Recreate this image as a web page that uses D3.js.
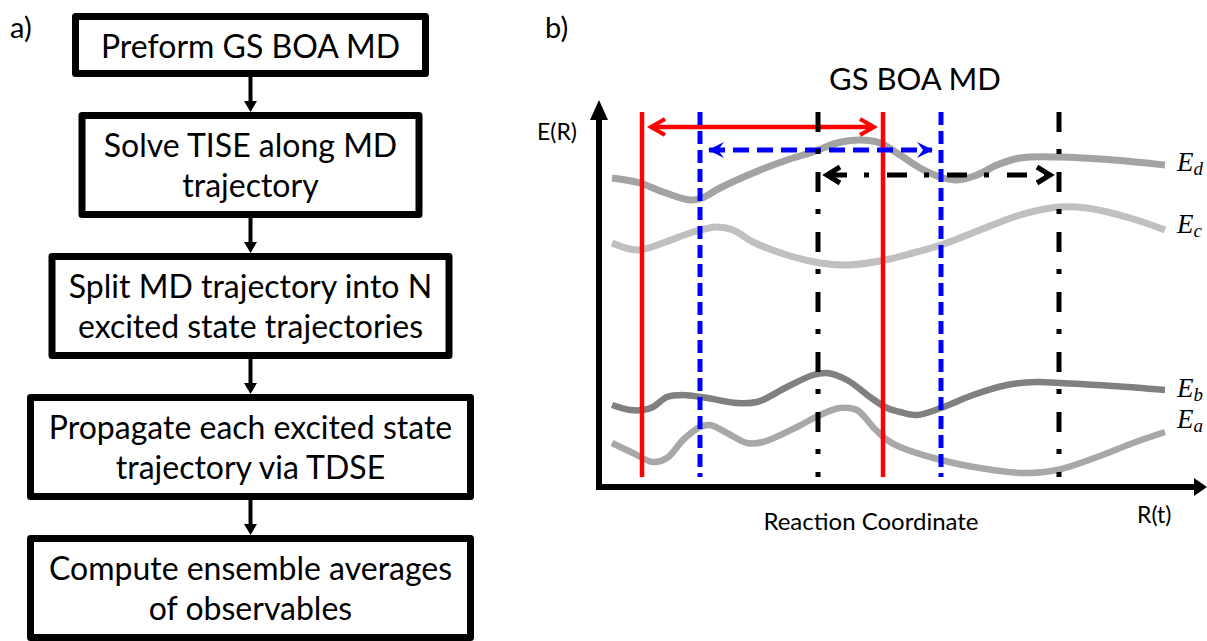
<!DOCTYPE html>
<html>
<head>
<meta charset="utf-8">
<script src="https://cdn.jsdelivr.net/npm/d3@7"></script>
<style>
  html, body { margin: 0; padding: 0; background: #fff; }
  svg { display: block; }
</style>
</head>
<body>
<svg id="fig" width="1207" height="641"></svg>
<script>
// ---------- data ----------
// Workflow steps (one entry per box, one string per text line)
const steps = [
  ["Preform GS BOA MD"],
  ["Solve TISE along MD", "trajectory"],
  ["Split MD trajectory into N", "excited state trajectories"],
  ["Propagate each excited state", "trajectory via TDSE"],
  ["Compute ensemble averages", "of observables"]
];

// Adiabatic energy surfaces, [reaction coordinate, energy] pairs
const surfaceEd = [[13,309],[41,304],[64,295],[91,287],[103,289],[121,299],[154,314],[188,327],[214,335],[238,344],[261,347],[281,344],[301,332],[321,319],[344,309],[358,307],[378,312],[398,322],[421,329],[460,330],[514,327],[566,322]];
const surfaceEc = [[13,244],[38,237],[64,244],[94,255],[118,260],[134,257],[154,245],[188,232],[221,224],[248,222],[281,226],[314,234],[342,242],[381,257],[421,272],[460,280],[488,279],[531,269],[566,257]];
const surfaceEb = [[13,82],[31,77],[44,77],[54,80],[68,90],[84,92],[108,89],[138,84],[158,85],[188,100],[214,112],[228,114],[248,107],[271,90],[288,79],[301,75],[318,72],[342,79],[374,92],[408,102],[438,105],[460,104],[514,101],[566,97]];
const surfaceEa = [[13,44],[34,34],[54,25],[68,29],[84,47],[101,60],[111,62],[128,54],[148,44],[164,45],[198,60],[221,72],[241,79],[258,77],[274,60],[288,47],[301,40],[342,27],[381,19],[424,14],[458,17],[498,30],[534,44],[566,55]];
const surfaceNames = ["d", "c", "b", "a"];

// Excited-state trajectory windows along the reaction coordinate
const windowStart = [43, 101, 219];
const windowEnd   = [284, 342, 460];
const windowArrowE = [360, 337, 312];

// Axis extents and texts
const rMax = 608, eMax = 387;
const axisTitles = { y: "E(R)", x: "R(t)", xCaption: "Reaction Coordinate", top: "GS BOA MD" };
const panelTags = ["a)", "b)"];

// ---------- styles / layout ----------
const sans = "Lato, 'Open Sans', sans-serif";
const serif = "'Liberation Serif', 'DejaVu Serif', serif";
const svg = d3.select("#fig");

// ---------- panel a: workflow ----------
const flowCx = 250.5;
const boxWidths = [357, 344, 404, 447, 447];
const border = 7, gap = 35, lineGap = 40;
let boxTop = 13;
const boxes = steps.map((lines, i) => {
  const h = 22 + 42 * lines.length;
  const b = { lines, top: boxTop, h, w: boxWidths[i] };
  boxTop += h + gap;
  return b;
});

const flow = svg.append("g");
flow.selectAll("rect.box").data(boxes).join("rect")
  .attr("class", "box")
  .attr("x", d => flowCx - d.w / 2 + border / 2)
  .attr("y", d => d.top + border / 2)
  .attr("width", d => d.w - border)
  .attr("height", d => d.h - border)
  .attr("fill", "#fff").attr("stroke", "#000")
  .attr("stroke-width", border).attr("stroke-linejoin", "round");

flow.selectAll("text.step").data(boxes).join("text")
  .attr("class", "step")
  .attr("text-anchor", "middle")
  .attr("font-family", sans).attr("font-size", 32).attr("fill", "#000")
  .each(function (d) {
    d3.select(this).selectAll("tspan").data(d.lines).join("tspan")
      .attr("x", flowCx)
      .attr("y", (l, j) => d.top + 45 + j * lineGap)
      .text(l => l);
  });

// connectors between consecutive boxes
const links = d3.pairs(boxes);
flow.selectAll("line.link").data(links).join("line")
  .attr("x1", flowCx).attr("x2", flowCx)
  .attr("y1", d => d[0].top + d[0].h)
  .attr("y2", d => d[1].top - 9)
  .attr("stroke", "#000").attr("stroke-width", 4);
flow.selectAll("path.head").data(links).join("path")
  .attr("d", d => {
    const t = d[1].top;
    return `M${flowCx - 6.5},${t - 11} L${flowCx + 6.5},${t - 11} L${flowCx},${t} Z`;
  })
  .attr("fill", "#000");

svg.append("text").attr("x", 10).attr("y", 38)
  .attr("font-family", sans).attr("font-size", 29).text(panelTags[0]);

// ---------- panel b: energy surfaces ----------
const x = d3.scaleLinear().domain([0, rMax]).range([599, 1207]);
const y = d3.scaleLinear().domain([0, eMax]).range([487, 100]);

svg.append("text").attr("x", 545).attr("y", 38)
  .attr("font-family", sans).attr("font-size", 29).text(panelTags[1]);

svg.append("text").attr("x", 915).attr("y", 90).attr("text-anchor", "middle")
  .attr("font-family", sans).attr("font-size", 31).text(axisTitles.top);

const defs = svg.append("defs");
function marker(id, build) {
  const m = defs.append("marker").attr("id", id)
    .attr("markerUnits", "userSpaceOnUse")
    .attr("viewBox", "-20 -12 24 24")
    .attr("markerWidth", 24).attr("markerHeight", 24)
    .attr("refX", 0).attr("refY", 0)
    .attr("orient", "auto-start-reverse")
    .attr("overflow", "visible");
  build(m);
}
marker("head-red", m => m.append("path").attr("d", "M-14,-8 L0,0 L-14,8")
  .attr("fill", "none").attr("stroke", "#ff0000").attr("stroke-width", 4).attr("stroke-dasharray", "none"));
marker("head-blue", m => m.append("path").attr("d", "M1,0 L-15,-8 L-9,0 L-15,8 Z")
  .attr("fill", "#0000ff").attr("stroke", "none"));
marker("head-black", m => m.append("path").attr("d", "M-13,-8 L0,0 L-13,8")
  .attr("fill", "none").attr("stroke", "#000").attr("stroke-width", 5).attr("stroke-dasharray", "none"));

// surfaces
const surfaces = [
  { name: surfaceNames[0], pts: surfaceEd, color: "#a3a3a3", width: 7, dy: 6 },
  { name: surfaceNames[1], pts: surfaceEc, color: "#c0c0c0", width: 7, dy: 3 },
  { name: surfaceNames[2], pts: surfaceEb, color: "#808080", width: 6.5, dy: 7 },
  { name: surfaceNames[3], pts: surfaceEa, color: "#a8a8a8", width: 6.5, dy: -4 }
];
const line = d3.line().x(d => x(d[0])).y(d => y(d[1])).curve(d3.curveCatmullRom.alpha(0.5));
svg.append("g").selectAll("path").data(surfaces).join("path")
  .attr("d", d => line(d.pts))
  .attr("fill", "none").attr("stroke", d => d.color)
  .attr("stroke-width", d => d.width).attr("stroke-linecap", "butt");

// labels E_d ... E_a at the right end of each surface
const lab = svg.append("g").selectAll("text").data(surfaces).join("text")
  .attr("x", d => x(d.pts[d.pts.length - 1][0]) + 12)
  .attr("y", d => y(d.pts[d.pts.length - 1][1]) + d.dy)
  .attr("font-family", serif).attr("font-style", "italic").attr("font-size", 27).attr("fill", "#000");
lab.append("tspan").text("E");
lab.append("tspan").attr("font-size", 19).attr("dy", 4).text(d => d.name);

// trajectory windows
const winStyles = [
  { color: "#ff0000", width: 4.5, vdash: null, hdash: null, head: "head-red" },
  { color: "#0000ff", width: 5, vdash: "13,6", hdash: "16,8", head: "head-blue" },
  { color: "#000000", width: 5, vdash: "20,17,5,18", hdash: "20,17,5,18", head: "head-black" }
];
const wins = windowStart.map((s, i) => ({ s, e: windowEnd[i], a: windowArrowE[i], st: winStyles[i] }));
const wg = svg.append("g");
wins.forEach(w => {
  [w.s, w.e].forEach(r => {
    wg.append("line")
      .attr("x1", x(r)).attr("x2", x(r))
      .attr("y1", y(375)).attr("y2", y(10))
      .attr("stroke", w.st.color).attr("stroke-width", w.st.width)
      .attr("stroke-dasharray", w.st.vdash);
  });
  wg.append("line")
    .attr("x1", x(w.s + 9)).attr("x2", x(w.e - 9))
    .attr("y1", y(w.a)).attr("y2", y(w.a))
    .attr("stroke", w.st.color).attr("stroke-width", w.st.width)
    .attr("stroke-dasharray", w.st.hdash)
    .attr("marker-start", `url(#${w.st.head})`)
    .attr("marker-end", `url(#${w.st.head})`);
});

// axes
const ax = svg.append("g");
ax.append("path")
  .attr("d", `M${x(0)},${y(eMax) + 18} L${x(0)},${y(0)} L${x(rMax) - 12},${y(0)}`)
  .attr("fill", "none").attr("stroke", "#000").attr("stroke-width", 6)
  .attr("stroke-linejoin", "miter").attr("stroke-linecap", "butt");
ax.append("path")
  .attr("d", `M${x(0)},${y(eMax)} L${x(0) + 9},${y(eMax) + 20} L${x(0) - 9},${y(eMax) + 20} Z`)
  .attr("fill", "#000");
ax.append("path")
  .attr("d", `M${x(rMax)},${y(0)} L${x(rMax) - 13},${y(0) - 9} L${x(rMax) - 13},${y(0) + 9} Z`)
  .attr("fill", "#000");

svg.append("text").attr("x", 537).attr("y", 140)
  .attr("font-family", sans).attr("font-size", 23).text(axisTitles.y);
svg.append("text").attr("x", 1137).attr("y", 523)
  .attr("font-family", sans).attr("font-size", 23).text(axisTitles.x);
svg.append("text").attr("x", 871).attr("y", 530).attr("text-anchor", "middle")
  .attr("font-family", sans).attr("font-size", 24).text(axisTitles.xCaption);
</script>
</body>
</html>
